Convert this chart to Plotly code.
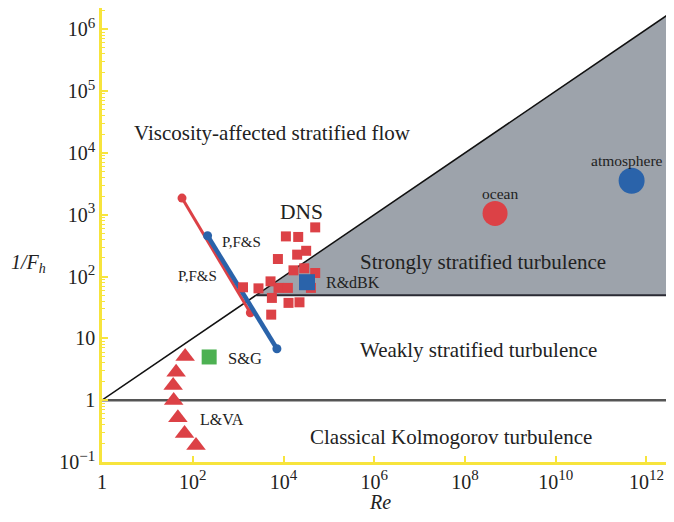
import plotly.graph_objects as go

# ---------------- data ----------------
# L&VA (triangles)
lva_re = [68, 43, 37, 38, 47, 66, 118]
lva_fh = [5.1, 2.83, 1.73, 0.99, 0.52, 0.29, 0.185]

# S&G (green square)
sg_re = [230]
sg_fh = [5.0]

# R&dBK (blue square)
rdbk_re = [33000]
rdbk_fh = [81]

# DNS (red squares)
dns_re = [50000, 11300, 21100, 31600, 20000, 7530, 28600, 16600, 50000, 5180,
          1280, 2810, 7760, 12500, 40200, 5550, 12900, 22500, 5360]
dns_fh = [624, 446, 437, 261, 226, 192, 136, 126, 114, 83.5,
          67, 64.4, 65.5, 65.5, 65.5, 45.1, 37.5, 38.3, 24.2]

# P,F&S lines (red and blue)
pfs_red_re = [58, 1860]
pfs_red_fh = [1860, 26]
pfs_blue_re = [212, 7160]
pfs_blue_fh = [457, 6.8]

# geophysical flows
ocean_re = [4.6e8]
ocean_fh = [1050]
atmos_re = [4.7e11]
atmos_fh = [3550]

# axis extents (log10)
X_MAX = 12.43
Y_TOP = 6.344

# regime boundaries
re_max = 10 ** 12.61
r_diag_re = [1, re_max]
r_diag_fh = [1, re_max ** 0.5]
fh_one_re = [1, re_max]
fh_one_fh = [1, 1]
fh_strong = 50
strong_re = [fh_strong ** 2, re_max]
strong_fh = [fh_strong, fh_strong]
gray_re = [fh_strong ** 2, re_max, re_max, fh_strong ** 2]
gray_fh = [fh_strong, re_max ** 0.5, fh_strong, fh_strong]

SUP = "<sup><span style='font-size:15px'>{}</span></sup>"
x_tickvals = [1, 1e2, 1e4, 1e6, 1e8, 1e10, 1e12]
x_ticktext = ["1"] + ["10" + SUP.format(e) for e in ["2", "4", "6", "8", "10", "12"]]
y_tickvals = [0.1, 1, 10, 1e2, 1e3, 1e4, 1e5, 1e6]
y_ticktext = (["10" + SUP.format("\u22121"), "1", "10"]
              + ["10" + SUP.format(e) for e in ["2", "3", "4", "5", "6"]])
y_minor = [m * 10 ** e for e in range(-1, 7) for m in range(2, 10)]

# ---------------- style ----------------
RED = "#DC4146"
BLUE = "#2A63AA"
GREEN = "#4DB152"
GRAY = "#9DA3AB"
YELLOW = "#F7E43C"
FONT = "Liberation Serif"
TXT = "#222222"

fig = go.Figure()

fig.add_trace(go.Scatter(x=gray_re, y=gray_fh, fill="toself", fillcolor=GRAY,
                         mode="lines", line=dict(width=0), hoverinfo="skip"))
fig.add_trace(go.Scatter(x=r_diag_re, y=r_diag_fh, mode="lines",
                         line=dict(color="#111111", width=1.5)))
fig.add_trace(go.Scatter(x=fh_one_re, y=fh_one_fh, mode="lines",
                         line=dict(color="#555555", width=2.5)))
fig.add_trace(go.Scatter(x=strong_re, y=strong_fh, mode="lines",
                         line=dict(color="#2a2a33", width=2)))

fig.add_trace(go.Scatter(x=pfs_red_re, y=pfs_red_fh, mode="lines+markers",
                         line=dict(color=RED, width=3),
                         marker=dict(color=RED, size=9, symbol="circle")))
fig.add_trace(go.Scatter(x=pfs_blue_re, y=pfs_blue_fh, mode="lines+markers",
                         line=dict(color=BLUE, width=4.5),
                         marker=dict(color=BLUE, size=9, symbol="circle")))

fig.add_trace(go.Scatter(x=dns_re, y=dns_fh, mode="markers",
                         marker=dict(color=RED, size=10, symbol="square")))
fig.add_trace(go.Scatter(x=rdbk_re, y=rdbk_fh, mode="markers",
                         marker=dict(color=BLUE, size=16, symbol="square")))
fig.add_trace(go.Scatter(x=sg_re, y=sg_fh, mode="markers",
                         marker=dict(color=GREEN, size=15, symbol="square")))
fig.add_trace(go.Scatter(x=lva_re, y=lva_fh, mode="markers",
                         marker=dict(color=RED, size=17, symbol="triangle-up")))
fig.add_trace(go.Scatter(x=ocean_re, y=ocean_fh, mode="markers",
                         marker=dict(color=RED, size=25, symbol="circle")))
fig.add_trace(go.Scatter(x=atmos_re, y=atmos_fh, mode="markers",
                         marker=dict(color=BLUE, size=26, symbol="circle")))

def ann(text, x, y, size, xanchor="center"):
    fig.add_annotation(text=text, x=x, y=y, xref="x", yref="y", showarrow=False,
                       xanchor=xanchor, yanchor="middle",
                       font=dict(family=FONT, size=size, color=TXT))

ann("Viscosity-affected stratified flow", 3.751, 4.325, 21)
ann("Strongly stratified turbulence", 8.40, 2.24, 21)
ann("Weakly stratified turbulence", 8.29, 0.819, 21)
ann("Classical Kolmogorov turbulence", 7.70, -0.588, 21)
ann("DNS", 4.39, 3.05, 21.5)
ann("ocean", 8.77, 3.35, 15.5)
ann("atmosphere", 12.41, 3.87, 15.5, "right")
ann("P,F&S", 3.068, 2.56, 15)
ann("P,F&S", 2.10, 2.01, 15)
ann("S&G", 2.738, 0.674, 16.5, "left")
ann("L&VA", 2.12, -0.31, 16, "left")
ann("R&dBK", 4.90, 1.90, 16, "left")

# page body has an 8px margin; figure is placed at (8, 8)
OFF = 8
W, H = 658, 506
L, R, T, B = 94, 0, 0, 52
PW, PH = W - L - R, H - T - B

fig.add_annotation(text="<i>1/F<sub>h</sub></i>", x=(28 - OFF - L) / PW,
                   y=(H - B - (264 - OFF)) / PH,
                   xref="paper", yref="paper", showarrow=False,
                   xanchor="center", yanchor="middle",
                   font=dict(family=FONT, size=20, color=TXT))
fig.add_annotation(text="<i>Re</i>", x=(380 - OFF - L) / PW,
                   y=(H - B - (502 - OFF)) / PH,
                   xref="paper", yref="paper", showarrow=False,
                   xanchor="center", yanchor="middle",
                   font=dict(family=FONT, size=20, color=TXT))

fig.update_layout(
    width=W, height=H,
    margin=dict(l=L, r=R, t=T, b=B, autoexpand=False),
    plot_bgcolor="white", paper_bgcolor="white",
    showlegend=False,
    font=dict(family=FONT, size=20, color=TXT),
)
fig.update_xaxes(type="log", range=[0, X_MAX], showgrid=False, zeroline=False,
                 automargin=False,
                 showline=True, linecolor=YELLOW, linewidth=2.5, mirror=True,
                 ticks="inside", ticklen=6, tickcolor=YELLOW, tickwidth=1.5,
                 tickvals=x_tickvals, ticktext=x_ticktext,
                 tickfont=dict(family=FONT, size=20, color=TXT))
fig.update_yaxes(type="log", range=[-1, Y_TOP], showgrid=False, zeroline=False,
                 automargin=False,
                 showline=True, linecolor=YELLOW, linewidth=2.5,
                 ticks="inside", ticklen=6, tickcolor=YELLOW, tickwidth=1.5,
                 tickvals=y_tickvals, ticktext=y_ticktext,
                 tickfont=dict(family=FONT, size=20, color=TXT),
                 minor=dict(ticks="inside", ticklen=3, tickcolor=YELLOW, tickwidth=1.2,
                            tickvals=y_minor, showgrid=False))

fig.write_html("out.html")
